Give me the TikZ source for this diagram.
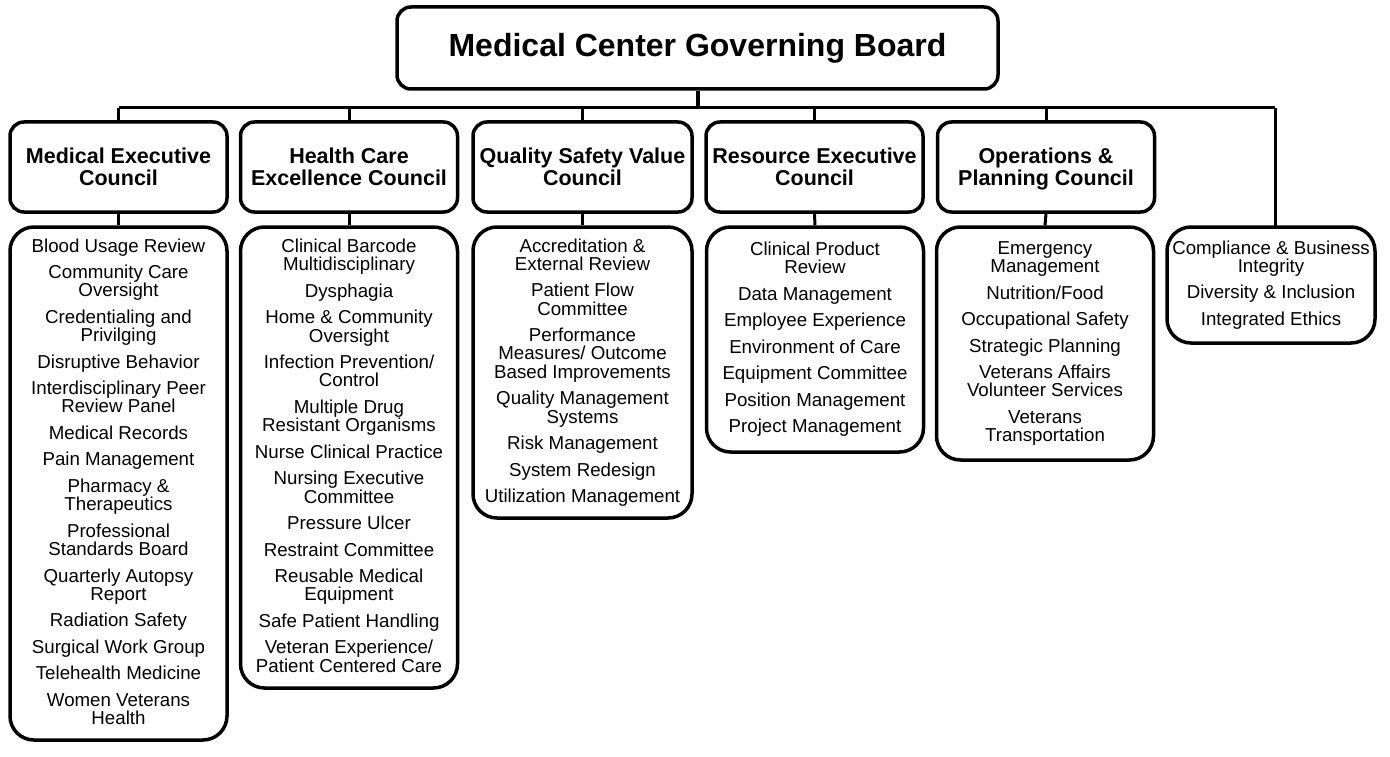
\documentclass[tikz,border=0pt]{standalone}
\usepackage{fontspec}
\setmainfont{Liberation Sans}
\begin{document}
\begin{tikzpicture}[x=1pt,y=-1pt,
  boardbox/.style={draw, line width=3.5pt, rounded corners=14pt, minimum width=601pt, minimum height=82pt, inner sep=0pt, font=\fontsize{32}{36}\selectfont\bfseries},
  councilbox/.style={draw, line width=3.5pt, rounded corners=14pt, minimum width=217pt, minimum height=90pt, inner sep=0pt, align=center, font=\fontsize{21.5}{22}\selectfont\bfseries},
  subbox/.style={draw, line width=3.5pt, rounded corners=24pt, minimum width=217pt, inner sep=0pt, align=center, font=\fontsize{18.7}{18.3}\selectfont},
  conn/.style={line width=3pt}]
\useasboundingbox (0,0) rectangle (1390,757);

\node[boardbox] (board) at (697.5,48) {Medical Center Governing Board};

\node[councilbox] (c1) at (118.5,167) {Medical Executive\\Council};
\node[councilbox] (c2) at (349,167) {Health Care\\Excellence Council};
\node[councilbox, minimum width=219pt] (c3) at (582.5,167) {Quality Safety Value\\Council};
\node[councilbox] (c4) at (814.5,167) {Resource Executive\\Council};
\node[councilbox] (c5) at (1046,167) {Operations \&\\\raisebox{0pt}[\height][0pt]{Planning Council}};

\node[subbox, minimum height=513pt] (s1) at (118.5,483.5) {Blood Usage Review\\[8.2pt]Community Care\\Oversight\\[8.2pt]Credentialing and\\Privilging\\[8.2pt]Disruptive Behavior\\[8.2pt]Interdisciplinary Peer\\Review Panel\\[8.2pt]Medical Records\\[8.2pt]Pain Management\\[8.2pt]Pharmacy \&\\Therapeutics\\[8.2pt]Professional\\Standards Board\\[8.2pt]Quarterly Autopsy\\Report\\[8.2pt]Radiation Safety\\[8.2pt]Surgical Work Group\\[8.2pt]Telehealth Medicine\\[8.2pt]Women Veterans\\Health\vphantom{g}};

\node[subbox, minimum height=461pt] (s2) at (349,457.5) {Clinical Barcode\\Multidisciplinary\\[8.2pt]Dysphagia\\[8.2pt]Home \& Community\\Oversight\\[8.2pt]Infection Prevention/\\Control\\[8.2pt]Multiple Drug\\Resistant Organisms\\[8.2pt]Nurse Clinical Practice\\[8.2pt]Nursing Executive\\Committee\\[8.2pt]Pressure Ulcer\\[8.2pt]Restraint Committee\\[8.2pt]Reusable Medical\\Equipment\\[8.2pt]Safe Patient Handling\\[8.2pt]Veteran Experience/\\Patient Centered Care\vphantom{g}};

\node[subbox, minimum width=219pt, minimum height=291pt] (s3) at (582.5,372.5) {Accreditation \&\\External Review\\[8.2pt]Patient Flow\\Committee\\[8.2pt]Performance\\Measures/ Outcome\\Based Improvements\\[8.2pt]Quality Management\\Systems\\[8.2pt]Risk Management\\[8.2pt]System Redesign\\[8.2pt]Utilization Management};

\node[subbox, minimum height=225pt] (s4) at (815,339.5) {Clinical Product\\Review\\[8.2pt]Data Management\\[8.2pt]Employee Experience\\[8.2pt]Environment of Care\\[8.2pt]Equipment Committee\\[8.2pt]Position Management\\[8.2pt]Project Management};

\node[subbox, minimum height=233pt] (s5) at (1045,343.5) {Emergency\\Management\\[8.2pt]Nutrition/Food\\[8.2pt]Occupational Safety\\[8.2pt]Strategic Planning\\[8.2pt]Veterans Affairs\\Volunteer Services\\[8.2pt]Veterans\\Transportation};

\node[subbox, minimum width=208pt, minimum height=116pt] (s6) at (1271,285) {Compliance \& Business\\Integrity\\[8.2pt]Diversity \& Inclusion\\[8.2pt]Integrated Ethics\vphantom{g}};

\coordinate (busL) at (118.5,108);
\coordinate (busR) at (1275,108);
\coordinate (s6top) at (1275,227);

\draw[conn, line width=4pt] (board.south) -- (board.south |- busL);
\draw[conn] (busL) -- (busR);
\foreach \c in {c1,c2,c3,c4,c5} {
  \draw[conn] (\c.north |- busL) -- (\c.north);
}
\draw[conn] (busR) -- (s6top);
\draw[conn] (c1.south) -- (s1.north);
\draw[conn] (c2.south) -- (s2.north);
\draw[conn] (c3.south) -- (s3.north);
\draw[conn] (c4.south) -- (s4.north);
\draw[conn] (c5.south) -- (s5.north);
\end{tikzpicture}
\end{document}
